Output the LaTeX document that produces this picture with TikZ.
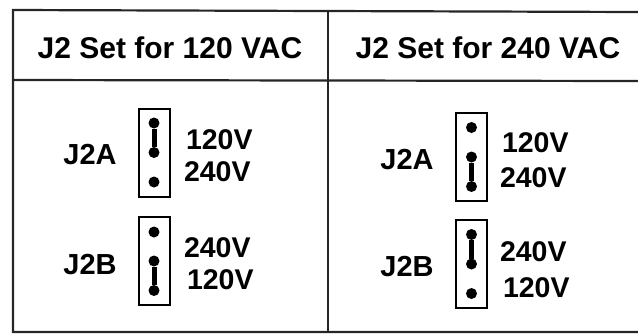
\documentclass[tikz,border=0pt]{standalone}
\usepackage{fontspec}
\setmainfont{Liberation Sans}
\begin{document}
\begin{tikzpicture}[x=1pt,y=-1pt,
  every node/.style={inner sep=0pt,outer sep=0pt},
  rule/.style={line width=2.2pt,black!85},
  hdr/.style={font=\fontsize{30}{30}\selectfont\bfseries},
  lbl/.style={font=\fontsize{29}{29}\selectfont\bfseries},
  volt/.style={font=\fontsize{28.5}{28.5}\selectfont\bfseries,anchor=west},
  jbox/.style={draw,line width=2pt,minimum width=31pt,minimum height=88pt},
  pin/.style={circle,fill=black,minimum size=11pt},
  bar/.style={line width=5pt}]
\useasboundingbox (0,0) rectangle (638,333);
% table
\coordinate (tl) at (13,10);
\coordinate (tr) at (638,12);
\coordinate (hl) at (13,80);
\coordinate (hr) at (638,81);
\coordinate (bl) at (13,332);
\coordinate (br) at (638,332);
\coordinate (mt) at (328,11);
\coordinate (mb) at (328,333);
\draw[rule] (tr) -- (tl) -- (bl) -- (br);
\draw[rule] (hl) -- (hr);
\draw[rule] (mt) -- (mb);
% headers
\node[hdr] (h1) at (170,48) {J2 Set for 120 VAC};
\node[hdr] (h2) at (488,48) {J2 Set for 240 VAC};
% left column, J2A
\node[lbl] (lA) at (90,155) {J2A};
\node[jbox] (bA1) at (154,152.5) {};
\node[pin] (a1) at (154,123) {};
\node[pin] (a2) at (154,152.5) {};
\node[pin] (a3) at (154,182) {};
\draw[bar] (a1) -- (a2);
\node[volt] (vA1) at (186,140) {120V};
\node[volt] (vA2) at (184,172) {240V};
% left column, J2B
\node[lbl] (lB) at (90,265) {J2B};
\node[jbox] (bB1) at (154,261) {};
\node[pin] (b1) at (154,232) {};
\node[pin] (b2) at (154,261) {};
\node[pin] (b3) at (154,290.5) {};
\draw[bar] (b2) -- (b3);
\node[volt] (vB1) at (184,248) {240V};
\node[volt] (vB2) at (187,280) {120V};
% right column, J2A
\node[lbl] (rA) at (407,160) {J2A};
\node[jbox] (bA2) at (471.5,157) {};
\node[pin] (c1) at (471.5,127.5) {};
\node[pin] (c2) at (471.5,157) {};
\node[pin] (c3) at (471.5,186.5) {};
\draw[bar] (c2) -- (c3);
\node[volt] (vC1) at (502,143) {120V};
\node[volt] (vC2) at (500,178) {240V};
% right column, J2B
\node[lbl] (rB) at (407,267) {J2B};
\node[jbox] (bB2) at (471.5,264) {};
\node[pin] (d1) at (471.5,234.5) {};
\node[pin] (d2) at (471.5,264) {};
\node[pin] (d3) at (471.5,293.5) {};
\draw[bar] (d1) -- (d2);
\node[volt] (vD1) at (500,252) {240V};
\node[volt] (vD2) at (503,288) {120V};
\end{tikzpicture}
\end{document}
